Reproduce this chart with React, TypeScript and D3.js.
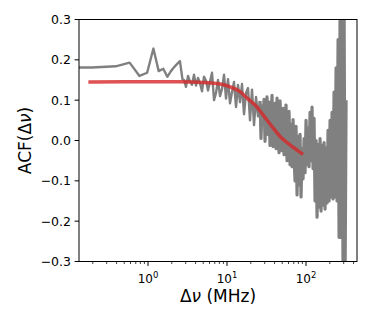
import React from 'react';
import * as d3 from 'd3';

const width = 374;
const height = 327;
const margin = { left: 79, right: 17, top: 19.5, bottom: 66 };

// measured autocorrelation (MHz lag, value)
const acfLag = [
  0.12, 0.195, 0.39, 0.585, 0.78, 0.975, 1.17, 1.365, 1.56, 1.755, 1.95, 2.145, 2.34, 2.535, 2.73,
  2.856, 3.027, 3.209, 3.401, 3.606, 3.822, 4.052, 4.295, 4.553, 4.826, 5.116, 5.423, 5.749, 6.094,
  6.46, 6.848, 7.259, 7.695, 8.157, 8.647, 9.166, 9.713, 10.3, 10.91, 11.57, 12.26, 13.0, 13.78,
  14.61, 15.48, 16.41, 17.4, 18.44, 19.55, 20.73, 21.97, 23.29, 24.69, 26.17,
  26.94, 27.74, 28.56, 29.41, 30.28, 31.17, 32.1, 33.05, 34.02, 35.03, 36.07, 37.14, 38.24, 39.37,
  40.53, 41.73, 42.97, 44.24, 45.55, 46.9, 48.29, 49.72, 51.19, 52.71, 54.27, 55.87, 57.53, 59.23,
  60.98, 62.79, 64.64, 66.56, 68.53, 70.55, 72.64, 74.79, 77.01, 79.28, 81.63, 84.05, 86.53, 89.1,
  91.73, 94.45, 97.24, 100.1, 103.0, 106.1, 109.2, 112.5, 115.8, 119.2, 122.8, 126.4, 130.1, 134.0,
  138.0, 142.0, 146.2, 150.6, 155.0, 159.6, 164.3, 169.2, 174.2, 179.4, 184.7, 190.1, 195.8, 201.6,
  207.5, 213.7, 220.0, 226.5, 233.2, 240.1, 247.2, 254.6, 262.1, 269.9, 277.8, 286.1, 294.5, 303.2,
  312.2, 321.5,
];
const acfValue = [
  0.181, 0.181, 0.184, 0.193, 0.16, 0.168, 0.228, 0.172, 0.178, 0.158, 0.172, 0.182, 0.19, 0.197, 0.152,
  0.15, 0.133, 0.16, 0.146, 0.138, 0.163, 0.136, 0.155, 0.142, 0.122, 0.158, 0.148, 0.124, 0.146,
  0.168, 0.1, 0.118, 0.15, 0.11, 0.128, 0.163, 0.104, 0.152, 0.092, 0.12, 0.145, 0.083, 0.138,
  0.095, 0.14, 0.065, 0.118, 0.13, 0.05, 0.126, 0.038, 0.108, 0.06, 0.098,
  0.005, 0.085, 0.04, 0.102, -0.002, 0.07, 0.108, 0.015, 0.095, -0.012, 0.06, 0.112, -0.015, 0.05,
  0.092, -0.02, 0.105, 0.01, -0.03, 0.098, 0.03, -0.025, 0.08, -0.035, 0.06, 0.088, -0.05, 0.02,
  0.072, -0.06, 0.04, -0.065, 0.052, -0.04, -0.1, 0.035, -0.135, 0.01, -0.11, 0.015, -0.14, -0.02,
  -0.095, 0.005, -0.08, 0.05, -0.06, 0.03, -0.065, 0.07, -0.05, 0.083, -0.07, 0.055, -0.15, 0.0,
  -0.19, -0.01, -0.165, 0.005, -0.175, -0.012, -0.16, -0.005, -0.17, -0.018, -0.155, 0.025, -0.15, 0.05,
  -0.14, 0.07, -0.145, 0.12, -0.14, 0.18, -0.15, 0.25, -0.24, 0.32, -0.24, 0.35, -0.35, 0.35,
  -0.35, 0.1,
];

// fitted model
const fitLag = [0.185, 1.0, 2.54, 5.0, 8.16, 11.0, 14.6, 18.0, 23.7, 30.0, 38.7, 48.0, 62.8, 88.0];
const fitValue = [0.145, 0.1455, 0.1455, 0.144, 0.14, 0.133, 0.121, 0.105, 0.084, 0.058, 0.03, 0.008, -0.011, -0.032];

const yTicks = [-0.3, -0.2, -0.1, 0.0, 0.1, 0.2, 0.3];
const font = 'DejaVu Sans, sans-serif';

export default function App() {
  const x = d3.scaleLog().domain([0.1338, 442]).range([margin.left, width - margin.right]);
  const y = d3.scaleLinear().domain([-0.3, 0.3]).range([height - margin.bottom + 0.5, margin.top]);
  const [x0, x1] = x.range();
  const [yb, yt] = y.range();

  const line = d3.line<[number, number]>().x(d => x(d[0])).y(d => y(d[1]));
  const pts: [number, number][] = acfLag.map((l, i) => [l, acfValue[i]]);
  // the high-lag part is many channels per pixel in the original, so it reads as a solid band
  const split = acfLag.findIndex(l => l > 26);
  const acfSparse = line(pts.slice(0, split + 1));
  const acfDense = line(pts.slice(split));
  const fitPath = line.curve(d3.curveMonotoneX)(fitLag.map((l, i) => [l, fitValue[i]]));

  const xt = x.ticks();
  const isMajor = (t: number) => Math.abs(Math.log10(t) - Math.round(Math.log10(t))) < 1e-9;

  return (
    <svg width={width} height={height} style={{ position: 'absolute', left: 0, top: 0 }} fontFamily={font}>
      <defs>
        <clipPath id="plot">
          <rect x={x0} y={yt} width={x1 - x0} height={yb - yt} />
        </clipPath>
      </defs>
      <g clipPath="url(#plot)">
        <path d={acfSparse || ''} fill="none" stroke="#808080" strokeWidth={2.4} strokeLinejoin="round" />
        <path d={acfDense || ''} fill="none" stroke="#808080" strokeWidth={3.2} strokeLinejoin="round" />
        <path d={fitPath || ''} fill="none" stroke="#d62728" strokeOpacity={0.8} strokeWidth={3.5} strokeLinecap="square" />
      </g>
      <rect x={x0} y={yt} width={x1 - x0} height={yb - yt} fill="none" stroke="#000" strokeWidth={1} />

      {yTicks.map(t => (
        <g key={t}>
          <line x1={x0 - 4.4} x2={x0} y1={y(t)} y2={y(t)} stroke="#000" strokeWidth={1} />
          <text x={x0 - 8} y={y(t)} dy="0.36em" textAnchor="end" fontSize={12.5}>
            {t < 0 ? '\u2212' + Math.abs(t).toFixed(1) : t.toFixed(1)}
          </text>
        </g>
      ))}

      {xt.map((t, i) => {
        const major = isMajor(t);
        return (
          <g key={i}>
            <line x1={x(t)} x2={x(t)} y1={yb} y2={yb + (major ? 4.4 : 2.5)} stroke="#000" strokeWidth={major ? 1 : 0.75} />
            {major && (
              <text x={x(t)} y={yb + 21} textAnchor="middle" fontSize={12}>
                10<tspan dy={-5} fontSize={8.5}>{Math.round(Math.log10(t))}</tspan>
              </text>
            )}
          </g>
        );
      })}

      <text x={(x0 + x1) / 2} y={302} textAnchor="middle" fontSize={17}>
        Δ<tspan fontStyle="italic">ν</tspan> (MHz)
      </text>
      <text transform={`translate(31, ${(yt + yb) / 2}) rotate(-90)`} textAnchor="middle" fontSize={17}>
        ACF(Δ<tspan fontStyle="italic">ν</tspan>)
      </text>
    </svg>
  );
}
